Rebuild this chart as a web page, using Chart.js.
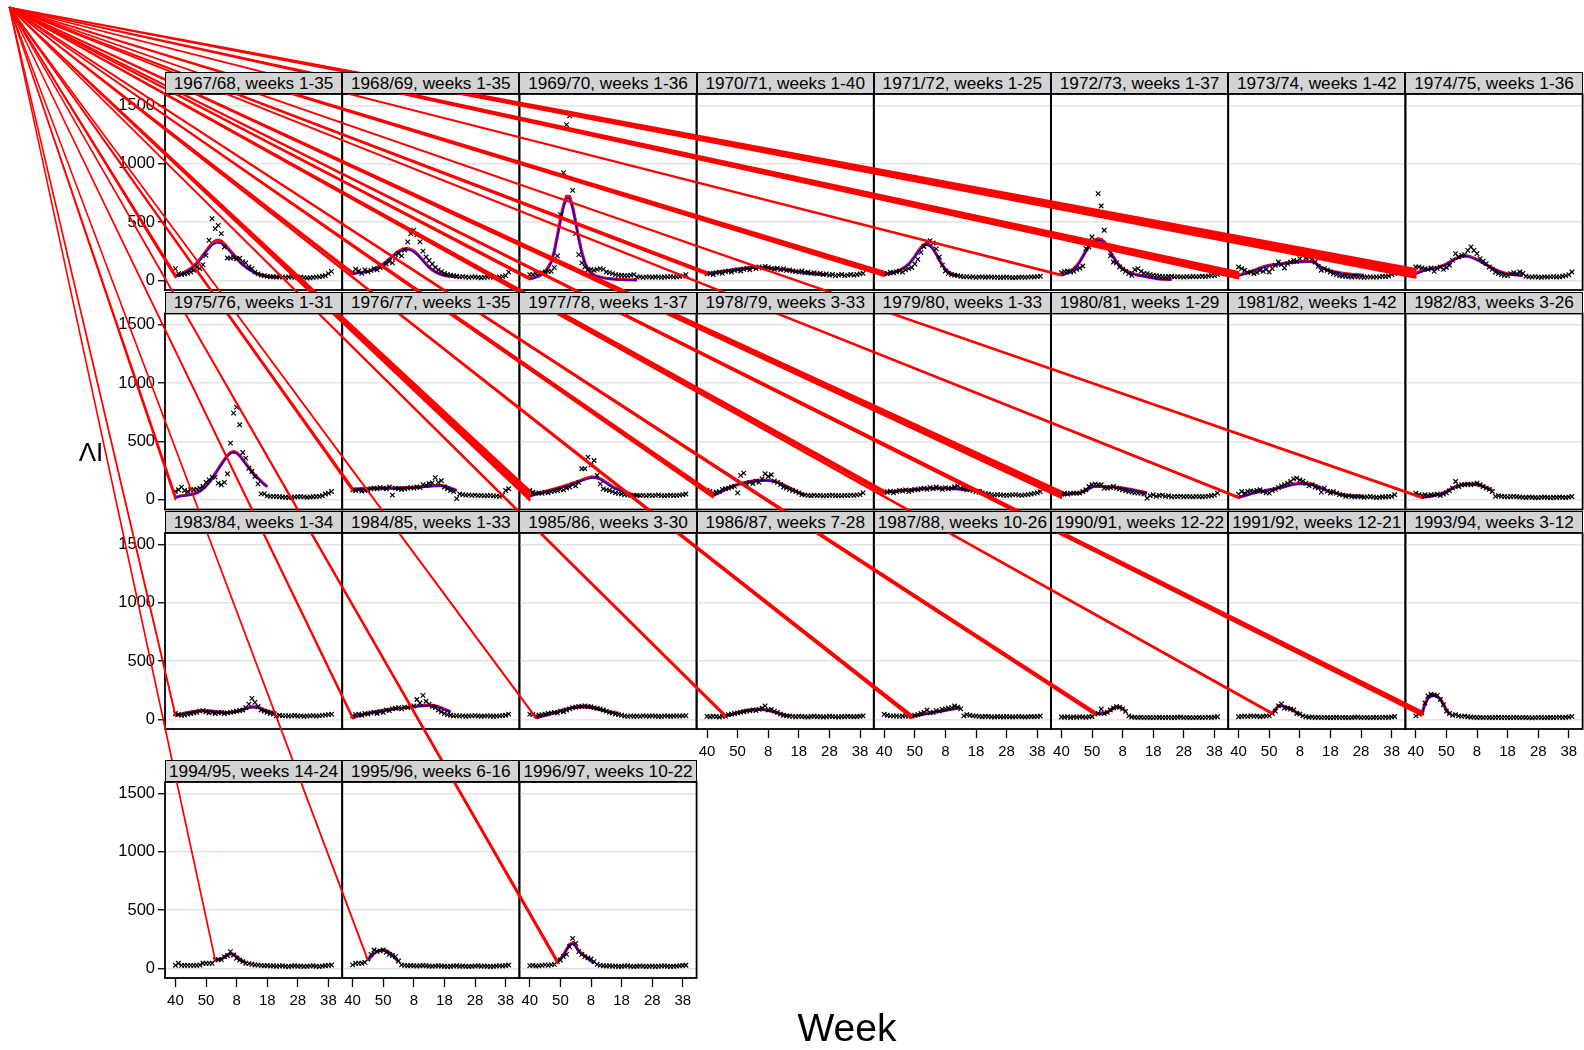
<!DOCTYPE html>
<html><head><meta charset="utf-8">
<script src="https://cdn.jsdelivr.net/npm/chart.js@4.4.1/dist/chart.umd.min.js"></script>
<style>
html,body{margin:0;padding:0;background:#fff;}
body{width:1584px;height:1050px;position:relative;overflow:hidden;font-family:"Liberation Sans",Arial,sans-serif;}
canvas.panel{position:absolute;z-index:1;}
#overlay{position:absolute;left:0;top:0;z-index:5;pointer-events:none;}
.strip{position:absolute;z-index:6;background:#d3d3d3;border:1.5px solid #000;box-sizing:border-box;font-size:17.2px;display:flex;justify-content:center;align-items:center;white-space:nowrap;overflow:hidden;color:#000;}
.lab{position:absolute;z-index:6;color:#000;white-space:nowrap;transform:translate(-50%,-50%);}
</style></head><body>
<canvas id="overlay" width="1584" height="1050"></canvas>
<div class="lab" style="left:91px;top:452px;font-size:26px;">ΛI</div>
<div class="lab" style="left:847px;top:1028px;font-size:39px;">Week</div>
<script>
// ---------------- data ----------------
const seasons = ['1967/68','1968/69','1969/70','1970/71','1971/72','1972/73','1973/74','1974/75',
 '1975/76','1976/77','1977/78','1978/79','1979/80','1980/81','1981/82','1982/83',
 '1983/84','1984/85','1985/86','1986/87','1987/88','1990/91','1991/92','1993/94',
 '1994/95','1995/96','1996/97'];
const weekFrom = [1,1,1,1,1,1,1,1, 1,1,1,3,1,1,1,3, 1,1,3,7,10,12,12,3, 14,6,10];
const weekTo   = [35,35,36,40,25,37,42,36, 31,35,37,33,33,29,42,26, 34,33,30,28,26,22,21,12, 24,16,22];
const xTickPos = [0,10,20,30,40,50];
const xTickLabels = ['40','50','8','18','28','38'];
const yTickPos = [0,500,1000,1500];
// band width (ILI units) of the fitted band at its first week
const bandStart = [30,20,20,25,40,10,60,80, 40,30,90,40,30,60,15,15, 20,20,10,20,30,30,15,40, 10,10,30];

// observed weekly values (season week 1 = calendar week 40)
const obs6768 = [100,57,49,55,62,70,86,114,100,134,214,343,529,443,471,400,286,191,190,195,185,190,160,150,114,100,70,55,45,40,35,30,32,28,30,27,25,28,30,26,25,28,22,20,22,25,28,30,35,40,57,77];
const obs6869 = [70,95,80,60,90,75,85,100,90,110,120,140,160,150,190,230,210,260,330,400,430,390,330,250,200,170,140,110,90,75,60,50,45,40,35,30,32,28,25,30,28,25,22,25,28,30,26,24,28,32,40,70];
const obs6970 = [49,49,57,57,66,71,77,77,109,209,563,923,1334,1409,771,400,220,149,114,91,94,86,94,100,94,71,66,57,49,43,43,40,40,43,49,28,30,25,28,30,26,28,30,25,28,30,32,28,30,33,37,49];
const obs7071 = [55,60,50,65,70,60,75,80,70,85,90,80,95,100,90,110,100,115,105,120,110,100,95,105,90,100,85,90,80,75,70,80,65,70,60,65,55,60,50,55,45,50,40,45,50,40,45,50,45,50,55,60];
const obs7172 = [60,55,70,65,75,80,70,90,100,110,140,180,240,290,330,340,320,270,200,130,80,60,50,45,40,35,30,32,28,30,25,28,30,26,28,30,25,27,24,26,28,25,22,24,26,28,25,27,30,28,32,35];
const obs7273 = [66,77,80,70,77,94,106,123,271,286,371,330,743,637,429,300,209,157,150,114,94,77,57,43,91,100,77,60,57,49,43,40,35,32,30,33,35,30,32,30,28,32,30,33,30,32,35,33,37,40,40,49];
const obs7374 = [114,100,86,66,71,57,66,86,77,94,71,100,129,157,134,106,143,157,171,163,186,214,191,200,186,157,120,86,100,86,71,57,49,40,37,35,30,28,32,30,28,25,28,30,27,28,30,35,33,37,49,57];
const obs7475 = [114,114,106,100,94,106,77,100,114,94,110,129,171,229,200,214,220,257,286,257,229,186,163,143,114,94,71,57,49,43,40,57,66,57,71,60,35,30,28,32,28,26,30,28,30,32,28,30,35,40,49,71];
const obs7576 = [71,86,109,80,71,86,86,91,100,114,149,171,194,194,143,129,150,223,486,743,794,643,406,357,271,243,200,137,51,51,34,29,29,29,26,24,22,20,22,24,26,28,25,22,24,26,28,30,35,50,57,71];
const obs7677 = [85,80,85,75,80,88,95,100,95,105,100,95,110,40,100,95,90,95,100,105,100,110,105,130,125,140,145,190,150,165,110,95,80,70,10,50,45,40,42,38,40,36,38,34,36,38,34,32,30,40,80,95];
const obs7778 = [80,65,57,60,55,65,60,70,75,80,90,85,100,110,130,120,150,266,266,366,300,337,209,137,94,85,80,70,60,55,50,45,40,38,35,40,36,38,34,40,36,38,42,36,34,38,40,36,38,40,45,50];
const obs7879 = [80,75,60,65,70,90,95,100,110,115,60,209,229,130,150,140,160,150,180,223,200,215,160,150,130,110,100,90,80,70,60,45,40,38,35,40,36,38,34,36,38,40,35,36,34,38,36,40,38,42,45,60];
const obs7980 = [70,65,75,60,70,80,75,85,70,80,90,85,95,100,90,105,95,110,100,90,105,95,100,110,120,100,95,85,90,80,70,65,60,55,50,45,40,45,42,40,38,40,42,45,40,38,42,45,50,55,60,70];
const obs8081 = [49,57,49,57,57,57,57,71,86,114,129,135,129,129,100,100,105,114,100,94,86,80,71,66,60,57,57,50,14,35,43,30,37,40,30,35,25,30,28,32,26,30,28,25,30,28,26,30,32,35,40,57];
const obs8182 = [49,71,57,71,77,71,80,86,71,60,57,80,90,106,120,130,143,157,180,186,170,160,143,120,130,110,100,66,100,75,57,71,57,45,40,30,35,28,25,30,26,22,25,28,24,20,22,26,24,28,30,43];
const obs8283 = [57,43,37,43,37,43,43,49,37,49,60,77,100,157,114,129,129,134,129,137,143,129,114,100,90,71,29,35,30,28,25,28,30,26,24,22,20,24,22,20,18,22,24,20,18,22,20,24,22,20,24,28];
const obs8384 = [50,40,35,38,45,50,55,60,70,75,65,55,60,50,55,60,50,55,60,65,70,75,80,100,130,180,145,110,80,70,60,50,45,30,35,30,32,28,30,33,28,30,26,28,30,32,28,30,34,36,40,45];
const obs8485 = [30,40,45,35,50,45,55,60,50,65,60,80,75,90,95,100,90,105,100,110,115,170,140,205,155,130,110,100,80,65,50,40,35,30,32,28,30,26,28,30,32,28,26,28,30,28,26,28,30,32,35,45];
const obs8586 = [45,40,30,35,40,45,50,55,60,55,70,65,80,90,100,105,110,112,115,110,108,100,95,90,80,70,60,55,45,40,35,28,25,30,26,28,25,30,28,26,30,28,26,25,30,28,26,28,30,28,30,32];
const obs8687 = [25,22,26,24,20,25,28,40,45,50,55,60,65,70,72,80,75,85,95,115,80,85,70,60,45,35,30,28,25,22,26,24,22,20,24,26,22,24,20,22,26,24,22,20,24,22,26,24,22,24,26,30];
const obs8788 = [43,35,30,28,30,25,28,30,25,28,35,40,50,60,80,55,60,75,70,85,90,95,100,114,105,90,30,40,35,30,28,25,22,26,24,22,20,24,22,20,24,22,20,22,24,22,20,22,24,22,24,28];
const obs9091 = [20,18,22,16,20,18,22,20,18,22,24,45,50,88,50,60,80,97,109,103,90,68,29,20,18,16,18,15,17,16,14,16,18,15,17,16,14,16,18,20,15,17,16,14,16,18,15,17,19,16,20,22];
const obs9192 = [22,25,28,24,30,26,28,22,26,28,30,50,70,115,132,97,95,88,80,50,44,30,22,18,20,16,18,15,17,16,14,16,18,15,17,16,14,16,18,20,15,17,16,14,16,18,15,17,19,16,20,24];
const obs9394 = [29,44,55,140,200,215,210,205,170,125,70,50,35,40,30,25,28,22,20,18,16,18,15,17,16,14,16,18,15,17,16,14,16,18,15,17,16,14,12,15,17,16,14,16,18,15,17,19,16,18,20,25];
const obs9495 = [25,43,25,25,25,25,25,25,28,43,43,43,43,71,75,75,100,110,143,114,86,70,57,43,40,35,30,28,25,22,24,20,22,18,20,22,18,16,20,22,18,20,16,18,20,22,18,16,20,22,25,28];
const obs9596 = [29,43,43,43,51,80,120,157,143,150,157,137,120,110,100,63,29,25,22,24,22,20,22,24,22,20,18,20,22,20,18,16,18,20,22,18,20,18,16,18,20,22,18,20,18,16,18,20,22,20,24,28];
const obs9697 = [23,25,20,22,25,29,25,29,34,57,71,100,120,186,257,214,143,120,100,90,80,57,34,25,22,20,22,18,20,16,18,20,22,18,16,18,20,18,16,18,20,16,18,20,22,18,16,18,20,22,24,26];

// red fitted band (centre), weeks weekFrom..weekTo
const red6768 = [37,45,55,70,85,100,120,150,180,215,250,285,315,338,345,335,310,280,250,220,190,160,135,115,95,80,65,55,45,40,35,32,30,28,27];
const red6869 = [60,62,65,68,72,78,85,95,108,122,140,160,182,205,228,248,262,270,272,265,250,228,200,170,140,112,90,72,60,50,42,38,35,32,30];
const red6970 = [14,20,28,38,52,75,110,160,250,380,520,640,720,718,630,500,360,240,150,95,65,45,35,28,22,18,15,12,10,8,7,6,5,5,4,4];
const red7071 = [60,62,65,68,72,76,80,84,88,92,96,100,103,106,108,110,111,111,110,109,107,105,103,100,97,94,90,86,82,78,74,70,66,62,59,56,54,52,50,48];
const red7172 = [55,58,62,68,76,86,100,118,140,170,205,245,280,305,312,300,270,225,175,130,95,70,55,45,40];
const red7273 = [45,55,65,80,100,125,160,205,250,290,320,345,357,350,329,290,243,200,157,125,100,85,71,60,52,45,40,35,30,25,20,16,13,10,9,8,7];
const red7374 = [43,50,58,66,75,85,95,105,115,122,128,132,135,138,142,146,150,153,155,157,159,161,162,163,160,150,130,112,100,90,82,75,70,65,60,57,54,51,49,47,45,43];
const red7475 = [60,70,80,88,95,100,105,110,118,128,140,155,170,185,198,207,210,208,200,190,178,165,150,135,120,105,92,80,70,62,56,52,48,46,44,42];
const red7576 = [20,28,35,38,42,46,51,60,75,95,120,150,185,225,265,305,345,380,405,414,405,380,345,310,275,240,210,185,160,135,114];
const red7677 = [90,92,94,96,97,98,99,100,100,101,101,101,101,101,101,102,102,103,104,105,106,108,110,112,114,117,120,122,123,122,118,110,100,90,80];
const red7778 = [37,43,50,57,64,71,78,85,92,100,108,116,124,132,141,150,160,170,180,188,194,194,190,180,165,148,130,113,100,90,80,70,60,50,42,37,33];
const red7879 = [37,50,63,76,89,101,112,122,131,139,146,152,157,161,164,166,167,168,167,164,158,150,140,128,115,101,88,75,63,52,44];
const red7980 = [65,67,70,72,75,78,80,83,85,88,90,92,94,96,98,99,100,101,101,101,100,99,98,96,94,92,90,88,86,84,82,80,78];
const red8081 = [43,46,49,52,55,58,62,70,82,97,110,116,117,116,114,112,111,110,108,104,100,96,92,87,82,76,70,64,57];
const red8182 = [20,28,36,44,52,60,66,71,76,81,86,91,96,101,106,112,120,128,134,137,138,138,137,136,132,124,113,100,88,78,70,63,56,50,45,41,38,35,33,32,31,30];
const red8283 = [20,24,28,32,37,43,50,60,72,86,100,112,122,128,132,134,134,133,130,124,116,106,94,80];
const red8384 = [35,40,46,52,58,63,67,70,72,73,73,72,70,67,64,61,59,58,59,62,67,74,83,92,101,106,107,102,92,81,72,65,60,58];
const red8485 = [14,22,30,38,45,52,58,63,68,72,76,80,84,88,91,94,97,100,103,106,109,112,115,117,119,120,119,115,107,97,86,75,63];
const red8586 = [14,20,27,34,41,49,57,65,73,81,88,94,99,103,105,106,106,104,101,96,90,83,76,70,65,60,56,52];
const red8687 = [29,35,42,50,58,65,71,76,80,83,85,86,85,82,77,71,63,55,47,40,34,29];
const red8788 = [23,28,34,40,45,50,55,60,64,68,72,77,82,87,92,96,100];
const red9091 = [50,50,51,54,62,78,95,105,104,92,68];
const red9192 = [50,85,115,118,110,100,90,75,58,44];
const red9394 = [50,132,185,200,206,195,175,132,80,44];
const red9495 = [71,74,80,95,115,128,118,100,80,62,50];
const red9596 = [71,100,129,145,155,157,150,135,114,85,57];
const red9697 = [57,80,115,160,205,218,190,150,125,105,85,65,45];

// blue fitted curve, weeks weekFrom..weekTo
const blue6768 = [30,40,50,62,78,95,115,140,170,205,240,272,300,318,322,315,295,268,240,212,185,158,133,112,93,77,62,52,43,38,33,30,28,26,25];
const blue6869 = [55,58,62,66,70,76,83,93,105,119,136,156,178,200,222,241,254,262,264,258,244,222,196,167,138,111,89,72,59,49,41,37,34,31,29];
const blue6970 = [10,16,24,34,48,70,104,152,240,365,505,625,700,700,615,490,350,232,145,90,60,42,32,25,20,16,13,10,8,6,5,4,3,3,2,2];
const blue7071 = [58,60,63,66,70,74,78,82,86,90,94,98,101,104,106,108,109,109,108,107,105,103,101,98,95,92,88,84,80,76,72,68,64,60,57,54,52,50,48,46];
const blue7172 = [52,55,59,65,73,83,97,115,137,166,200,238,272,296,303,292,263,220,171,127,93,68,53,43,38];
const blue7273 = [40,50,60,75,95,120,155,200,248,285,315,335,345,340,320,285,240,198,155,123,98,82,68,58,50,43,38,33,28,23,18,14,11,8,7,6,5];
const blue7374 = [40,47,55,63,72,82,92,102,112,119,125,129,132,135,139,143,147,150,152,154,156,158,159,160,157,147,128,110,98,88,80,73,68,63,58,55,52,49,47,45,43,41];
const blue7475 = [55,65,75,83,90,96,101,107,115,125,137,151,166,181,194,203,206,204,196,186,174,161,146,131,116,102,89,77,67,59,53,49,45,43,41,39];
const blue7576 = [18,26,33,36,40,44,49,58,72,92,117,147,182,221,261,300,340,374,398,406,398,374,340,305,270,236,206,181,156,131,110];
const blue7677 = [86,88,90,92,93,94,95,96,96,97,97,97,97,97,97,98,98,99,100,101,102,104,106,108,110,113,116,118,119,118,114,106,96,86,76];
const blue7778 = [30,36,43,50,57,64,71,78,85,93,101,109,117,125,134,143,153,163,173,181,187,188,184,174,159,142,125,108,95,85,75,65,55,46,38,33,29];
const blue7879 = [35,48,61,74,87,99,110,120,129,137,144,150,155,159,162,164,165,166,165,162,156,148,138,126,113,99,86,73,61,50,42];
const blue7980 = [63,65,68,70,73,76,78,81,83,86,88,90,92,94,96,97,98,99,99,99,98,97,96,94,92,90,88,86,84,82,80,78,76];
const blue8081 = [41,44,47,50,53,56,60,68,80,95,108,114,115,114,112,110,109,108,106,102,98,94,90,85,80,74,68,62,55];
const blue8182 = [18,26,34,42,50,58,64,69,74,79,84,89,94,99,104,110,118,126,132,135,136,136,135,134,130,122,111,98,86,76,68,61,54,48,43,39,36,33,31,30,29,28];
const blue8283 = [18,22,26,30,35,41,48,58,70,84,98,110,120,126,130,132,132,131,128,122,114,104,92,78];
const blue8384 = [33,38,44,50,56,61,65,68,70,71,71,70,68,65,62,59,57,56,57,60,65,72,80,89,97,102,103,98,89,78,70,63,58,56];
const blue8485 = [12,20,28,36,43,50,56,61,66,70,74,78,82,86,89,92,95,98,101,104,107,110,113,115,117,118,117,113,105,95,84,73,61];
const blue8586 = [12,18,25,32,39,47,55,63,71,79,86,92,97,101,103,104,104,102,99,94,88,81,74,68,63,58,54,50];
const blue8687 = [27,33,40,48,56,63,69,74,78,81,83,84,83,80,75,69,61,53,45,38,32,27];
const blue8788 = [21,26,32,38,43,48,53,58,62,66,70,75,80,85,90,94,98];
const blue9091 = [48,48,49,52,60,76,93,103,102,90,66];
const blue9192 = [48,82,112,115,107,97,87,72,55,41];
const blue9394 = [48,128,180,196,202,192,171,128,77,42];
const blue9495 = [68,71,77,92,112,125,115,97,77,59,47];
const blue9596 = [68,97,126,142,152,154,147,132,111,82,54];
const blue9697 = [55,77,112,156,200,212,185,146,121,101,82,62,42];

const observed = [obs6768,obs6869,obs6970,obs7071,obs7172,obs7273,obs7374,obs7475,obs7576,obs7677,obs7778,obs7879,obs7980,obs8081,obs8182,obs8283,obs8384,obs8485,obs8586,obs8687,obs8788,obs9091,obs9192,obs9394,obs9495,obs9596,obs9697];
const redFit = [red6768,red6869,red6970,red7071,red7172,red7273,red7374,red7475,red7576,red7677,red7778,red7879,red7980,red8081,red8182,red8283,red8384,red8485,red8586,red8687,red8788,red9091,red9192,red9394,red9495,red9596,red9697];
const blueFit = [blue6768,blue6869,blue6970,blue7071,blue7172,blue7273,blue7374,blue7475,blue7576,blue7677,blue7778,blue7879,blue7980,blue8081,blue8182,blue8283,blue8384,blue8485,blue8586,blue8687,blue8788,blue9091,blue9192,blue9394,blue9495,blue9596,blue9697];

// ---------------- layout ----------------
const FONT = '"Liberation Sans", Arial, Helvetica, sans-serif';
Chart.defaults.font.family = FONT;
const PX0 = 165, PW = 177.2, SH = 22, PH = 196;
const rowTop = [72, 291.5, 511, 760];
const NCOL = 8;
const X_MIN = -3.4, X_MAX = 54.5, Y_MIN = -83, Y_MAX = 1597;

const borderPlugin = {
  id: 'panelBorder',
  afterDraw(chart) {
    const a = chart.chartArea, c = chart.ctx;
    c.save(); c.strokeStyle = '#000'; c.lineWidth = 1.8;
    c.strokeRect(a.left, a.top, a.right - a.left, a.bottom - a.top);
    c.restore();
  }
};

const charts = [];
seasons.forEach((s, k) => {
  const r = Math.floor(k / NCOL), c = k % NCOL;
  const isLeft = c === 0;
  const isBottom = (r === 3) || (r === 2 && c >= 3);
  const plotL = PX0 + c * PW, plotT = rowTop[r] + SH;
  const plotR = plotL + PW, plotB = plotT + PH;
  const axisW = isLeft ? 62 : 0, axisH = isBottom ? 40 : 0, pad = 3;
  const cl = Math.floor(plotL - axisW - pad), ct = Math.floor(plotT - pad);
  const cw = Math.ceil(plotR + pad) - cl, chh = Math.ceil(plotB + axisH + pad) - ct;
  const padding = {
    left: plotL - axisW - cl, top: plotT - ct,
    right: cl + cw - plotR, bottom: ct + chh - plotB - axisH
  };

  // strip
  const st = document.createElement('div');
  st.className = 'strip';
  st.style.left = plotL + 'px'; st.style.top = rowTop[r] + 'px';
  st.style.width = PW + 'px'; st.style.height = SH + 'px';
  st.textContent = s + ', weeks ' + weekFrom[k] + '-' + weekTo[k];
  document.body.appendChild(st);

  const cv = document.createElement('canvas');
  cv.className = 'panel';
  cv.width = cw; cv.height = chh;
  cv.style.left = cl + 'px'; cv.style.top = ct + 'px';
  cv.style.width = cw + 'px'; cv.style.height = chh + 'px';
  document.body.appendChild(cv);

  const i0 = weekFrom[k] - 1;
  const ptsData = observed[k].map((v, i) => ({x: i, y: v}));
  const redData = redFit[k].map((v, j) => ({x: i0 + j, y: v}));
  const blueData = blueFit[k].map((v, j) => ({x: i0 + j, y: v}));

  const ch = new Chart(cv, {
    type: 'scatter',
    data: { datasets: [
      { data: ptsData, showLine: false, pointStyle: 'crossRot', pointRadius: 3.2,
        borderColor: '#000', backgroundColor: '#000', pointBorderWidth: 1.2, order: 0 },
      { data: blueData, showLine: true, pointRadius: 0, borderColor: '#0000ff',
        borderWidth: 1.6, fill: false, tension: 0, order: 1 },
      { data: redData, showLine: true, pointRadius: 0, borderColor: '#ff0000',
        borderWidth: 3.2, fill: false, tension: 0, order: 2 }
    ]},
    options: {
      responsive: false, animation: false, devicePixelRatio: 1, events: [],
      layout: { padding, autoPadding: false },
      plugins: { legend: {display: false}, tooltip: {enabled: false}, title: {display: false} },
      scales: {
        x: {
          type: 'linear', min: X_MIN, max: X_MAX, display: isBottom,
          afterBuildTicks: (ax) => { ax.ticks = xTickPos.map(v => ({value: v})); },
          afterFit: (ax) => { ax.height = axisH; ax.paddingLeft = 0; ax.paddingRight = 0; ax.paddingTop = 0; ax.paddingBottom = 0; },
          ticks: { display: isBottom, autoSkip: false, maxRotation: 0, color: '#000', padding: 5,
            font: {size: 15, family: FONT},
            callback: (v) => xTickLabels[xTickPos.indexOf(v)] },
          grid: { drawOnChartArea: false, drawTicks: true, tickLength: 9, tickColor: '#000', tickWidth: 1.3, color: '#000' },
          border: { display: false }
        },
        y: {
          type: 'linear', min: Y_MIN, max: Y_MAX,
          afterBuildTicks: (ax) => { ax.ticks = yTickPos.map(v => ({value: v})); },
          afterFit: (ax) => { ax.width = axisW; ax.paddingTop = 0; ax.paddingBottom = 0; ax.paddingLeft = 0; ax.paddingRight = 0; },
          ticks: { display: isLeft, color: '#000', padding: 3, font: {size: 16.5, family: FONT},
            callback: (v) => String(v) },
          grid: { color: '#e4e4e4', lineWidth: 1.5, drawTicks: isLeft, tickLength: 7, tickColor: '#000', tickWidth: 1.3 },
          border: { display: false }
        }
      }
    },
    plugins: [borderPlugin]
  });
  charts.push({ch, cl, ct, k});
});

// red band outline running back to the device origin (as in the reference rendering)
const ov = document.getElementById('overlay').getContext('2d');
ov.fillStyle = '#ff0000'; ov.strokeStyle = '#ff0000'; ov.lineWidth = 1.5; ov.lineJoin = 'round';
charts.forEach(({ch, cl, ct, k}) => {
  const xs = ch.scales.x, ys = ch.scales.y;
  const x0 = weekFrom[k] - 1, v0 = redFit[k][0], hw = bandStart[k] / 2;
  const px = cl + xs.getPixelForValue(x0);
  const pTop = ct + ys.getPixelForValue(v0 + hw);
  const pBot = ct + ys.getPixelForValue(v0 - hw);
  ov.beginPath();
  ov.moveTo(9.5, 7.5); ov.lineTo(px, pTop); ov.lineTo(px, pBot); ov.closePath();
  ov.fill(); ov.stroke();
});
</script>
</body></html>
